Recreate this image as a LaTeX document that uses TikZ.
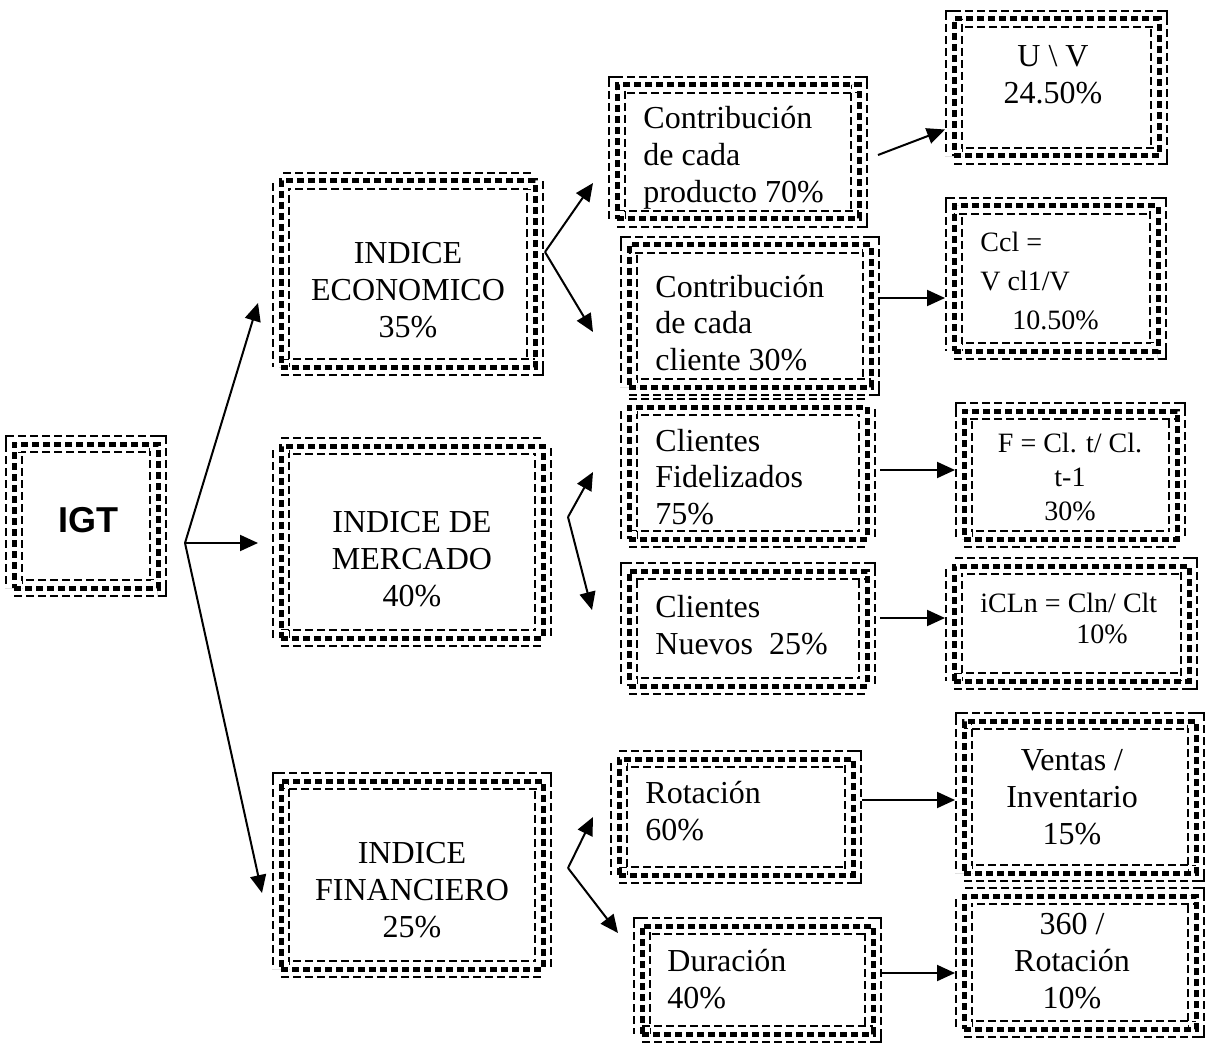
\documentclass[tikz,border=0pt]{standalone}
\usepackage{fontspec}
\setmainfont{Liberation Serif}
\newfontfamily\igtfont{Liberation Sans}
\usetikzlibrary{arrows.meta,calc}

\begin{document}
\begin{tikzpicture}[x=0.5pt, y=-0.5pt,
    artbox/.style={draw, inner sep=0pt, outer sep=0pt, line width=2.5pt, dash pattern=on 3.5pt off 2pt,
      preaction={draw, double, line width=1pt, double distance=7pt, dash pattern=on 4pt off 2pt}},
    boxtext/.style={font=\fontsize{16}{18.4}\selectfont, align=center, inner sep=0pt},
    lefttext/.style={boxtext, align=left, anchor=west},
    smalltext/.style={font=\fontsize{14}{17}\selectfont, inner sep=0pt},
    conn/.style={line width=1pt, -{Triangle[length=9pt, width=8pt]}}]
    \useasboundingbox (0,0) rectangle (1209,1048);

    % boxes
    \node[artbox, minimum width=72pt, minimum height=72pt] (igt) at (86,516) {};
    \node[artbox, minimum width=127pt, minimum height=93pt] (eco) at (408,274) {};
    \node[artbox, minimum width=131pt, minimum height=96pt] (mer) at (412,542) {};
    \node[artbox, minimum width=131pt, minimum height=94pt] (fin) at (412,875) {};
    \node[artbox, minimum width=121pt, minimum height=67pt] (prod) at (738,152) {};
    \node[artbox, minimum width=121pt, minimum height=71pt] (cli) at (750,316) {};
    \node[artbox, minimum width=119pt, minimum height=66pt] (fid) at (748,473) {};
    \node[artbox, minimum width=119pt, minimum height=57.5pt] (nue) at (748,628.5) {};
    \node[artbox, minimum width=117pt, minimum height=58pt] (rot) at (736,817) {};
    \node[artbox, minimum width=115.5pt, minimum height=54pt] (dur) at (757.5,980) {};
    \node[artbox, minimum width=102.5pt, minimum height=68.5pt] (uv) at (1056.5,87.5) {};
    \node[artbox, minimum width=102pt, minimum height=72.5pt] (ccl) at (1056,278.5) {};
    \node[artbox, minimum width=106.5pt, minimum height=64pt] (fcl) at (1070.5,475) {};
    \node[artbox, minimum width=117.5pt, minimum height=57.5pt] (icl) at (1071.5,623.5) {};
    \node[artbox, minimum width=116pt, minimum height=76pt] (ven) at (1080,797) {};
    \node[artbox, minimum width=116pt, minimum height=66.5pt] (tsx) at (1080,962.5) {};

    % texts
    \node[inner sep=0pt, font=\igtfont\bfseries\fontsize{18}{20}\selectfont] (igttext) at (88,520) {IGT};
    \node[boxtext] (ecotext) at (408,290) {INDICE\\ECONOMICO\\35\%};
    \node[boxtext] (mertext) at (412,559) {INDICE DE\\MERCADO\\40\%};
    \node[boxtext] (fintext) at (412,890) {INDICE\\FINANCIERO\\25\%};
    \node[lefttext] (prodtext) at (643,158) {Contribución\\de cada\\producto 70\%};
    \node[lefttext] (clitext) at (655,323) {Contribución\\de cada\\cliente 30\%};
    \node[lefttext] (fidtext) at (655,477) {Clientes\\Fidelizados\\75\%};
    \node[lefttext] (nuetext) at (655,625) {Clientes\\Nuevos\ \ 25\%};
    \node[lefttext] (rottext) at (645,811) {Rotación\\60\%};
    \node[lefttext] (durtext) at (667,979) {Duración\\40\%};
    \node[boxtext] (uvtext) at (1053,75) {U \textbackslash{} V\\24.50\%};
    \node[smalltext, font=\fontsize{14}{19.5}\selectfont, align=left, anchor=west] (ccltext) at (980,281) {Ccl =\\V cl1/V\\\hspace*{16pt}10.50\%};
    \node[smalltext, align=center] (fcltext) at (1070,477) {F = Cl. t/ Cl.\\t-1\\30\%};
    \node[smalltext, font=\fontsize{14}{15.5}\selectfont, align=left, anchor=west] (icltext) at (980,618) {iCLn = Cln/ Clt\\\hspace*{48pt}10\%};
    \node[boxtext] (ventext) at (1072,797) {Ventas /\\Inventario\\15\%};
    \node[boxtext] (tsxtext) at (1072,961) {360 /\\Rotación\\10\%};

    % branch points
    \coordinate (jigt) at ($(igt.east)+(27,27)$);
    \coordinate (jeco) at ($(eco.east)+(10,-22)$);
    \coordinate (jmer) at ($(mer.east)+(25,-25)$);
    \coordinate (jfin) at ($(fin.east)+(25,-7)$);

    \draw[conn] (jigt) -- ($(eco.west)+(-23,29)$);
    \draw[conn] (jigt) -- ($(mer.west)+(-23,1)$);
    \draw[conn] (jigt) -- ($(fin.west)+(-19,18)$);
    \draw[conn] (jeco) -- ($(prod.west)+(-24,31)$);
    \draw[conn] (jeco) -- ($(cli.west)+(-36,16)$);
    \draw[conn] (jmer) -- ($(fid.west)+(-36,-1)$);
    \draw[conn] (jmer) -- ($(nue.west)+(-37,-18.5)$);
    \draw[conn] (jfin) -- ($(rot.west)+(-26,0)$);
    \draw[conn] (jfin) -- ($(dur.west)+(-24,-47)$);

    \draw[conn] ($(prod.east)+(19,3)$) -- ($(uv.west)+(-9,42)$);
    \draw[conn] ($(cli.east)+(9,-18)$) -- ($(ccl.west)+(-9,19.5)$);
    \draw[conn] ($(fid.east)+(13,-3)$) -- ($(fcl.west)+(-9,-5)$);
    \draw[conn] ($(nue.east)+(13,-10.5)$) -- ($(icl.west)+(-9,-5.5)$);
    \draw[conn] ($(rot.east)+(9,-17)$) -- ($(ven.west)+(-9,3)$);
    \draw[conn] ($(dur.east)+(9,-7)$) -- ($(tsx.west)+(-9,10.5)$);
\end{tikzpicture}
\end{document}
